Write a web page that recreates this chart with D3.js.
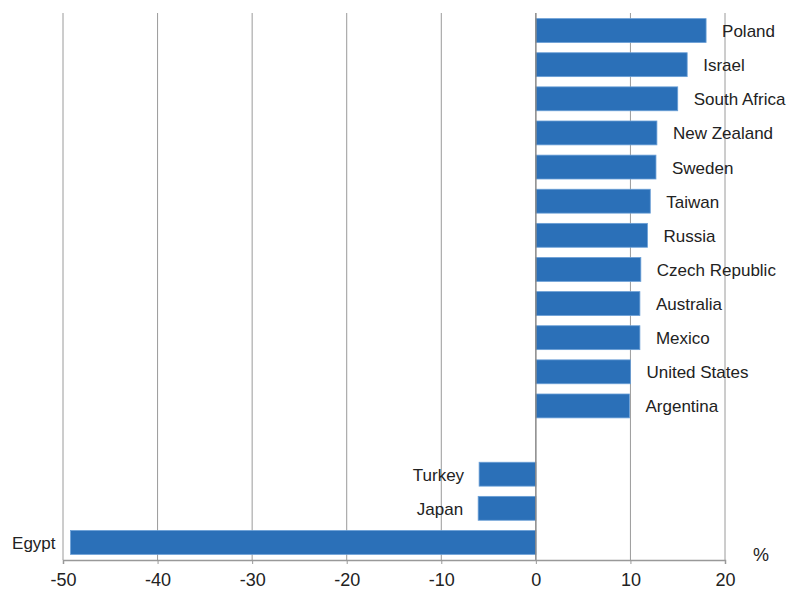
<!DOCTYPE html>
<html>
<head>
<meta charset="utf-8">
<script src="https://cdn.jsdelivr.net/npm/d3@7"></script>
<style>
  body { margin: 0; background: #fff; }
  text { font-family: "Liberation Sans", Arial, sans-serif; fill: #222; }
</style>
</head>
<body>
<svg width="800" height="590"></svg>
<script>
// countries top to bottom, "" is the empty gap row
const countries = ["Poland", "Israel", "South Africa", "New Zealand", "Sweden", "Taiwan", "Russia",
  "Czech Republic", "Australia", "Mexico", "United States", "Argentina", "", "Turkey", "Japan", "Egypt"];
const values = [18.0, 16.0, 15.0, 12.8, 12.7, 12.1, 11.8, 11.1, 11.0, 11.0, 10.0, 9.9, null, -6.0, -6.1, -49.2];
const ticks = [-50, -40, -30, -20, -10, 0, 10, 20];

const data = countries.map((c, i) => ({ name: c, value: values[i] }));

const svg = d3.select("svg");

const x = d3.scaleLinear().domain([-50, 20]).range([63, 725]);
const y = d3.scaleBand().domain(countries).range([13, 559]).paddingInner(0.3).paddingOuter(0.15);

// gridlines
svg.append("g").selectAll("line")
  .data(ticks.filter(t => t !== 0))
  .enter().append("line")
  .attr("x1", d => x(d)).attr("x2", d => x(d))
  .attr("y1", 13).attr("y2", 560)
  .attr("stroke", "#9a9a9a").attr("stroke-width", 1);

// bars
const bars = data.filter(d => d.value !== null);
svg.append("g").selectAll("rect")
  .data(bars)
  .enter().append("rect")
  .attr("x", d => x(Math.min(0, d.value)))
  .attr("y", d => y(d.name) + 0.5)
  .attr("width", d => Math.abs(x(d.value) - x(0)))
  .attr("height", y.bandwidth())
  .attr("fill", "#2b70b8")
  .attr("stroke", "#6a9fd6").attr("stroke-width", 0.8);

// zero line
svg.append("line")
  .attr("x1", x(0)).attr("x2", x(0))
  .attr("y1", 13).attr("y2", 560)
  .attr("stroke", "#888").attr("stroke-width", 1.5);

// labels
svg.append("g").selectAll("text")
  .data(bars)
  .enter().append("text")
  .attr("x", d => d.value >= 0 ? x(d.value) + 16 : x(d.value) - 15)
  .attr("y", d => y(d.name) + y.bandwidth() / 2 + 1)
  .attr("dy", "0.35em")
  .attr("text-anchor", d => d.value >= 0 ? "start" : "end")
  .style("font-size", "17px")
  .text(d => d.name);

// x axis
const axis = svg.append("g")
  .attr("transform", "translate(0,560)")
  .call(d3.axisBottom(x).tickValues(ticks).tickSize(4).tickPadding(9).tickFormat(d => String(d)));
axis.select(".domain").attr("stroke", "#999").attr("stroke-width", 1.5);
axis.selectAll(".tick line").attr("stroke", "#999");
axis.selectAll(".tick text").style("font-size", "18px").attr("fill", "#222");

svg.append("text")
  .attr("x", 761).attr("y", 561)
  .attr("text-anchor", "middle")
  .style("font-size", "18px")
  .text("%");
</script>
</body>
</html>
